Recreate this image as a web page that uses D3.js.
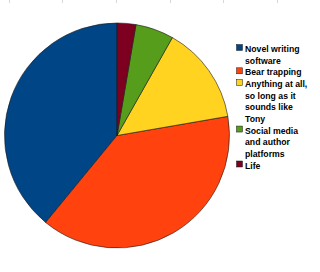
<!DOCTYPE html>
<html>
<head>
  <script src="https://d3js.org/d3.v7.min.js"></script>
  <style>
    body { margin: 0; background: #fff; }
    svg { display: block; }
    .legend text { font-family: "Liberation Sans", Arial, sans-serif; font-weight: bold; font-size: 8.7px; fill: #000; }
  </style>
</head>
<body>
<div id="chart"></div>
<script>
  // slices, in drawing order (counter-clockwise from 12 o'clock)
  const categories = ["Novel writing software", "Bear trapping", "Anything at all, so long as it sounds like Tony", "Social media and author platforms", "Life"];
  const values = [39.1, 38.7, 14.1, 5.5, 2.7];
  const colors = ["#004586", "#ff420e", "#ffd320", "#579d1c", "#7e0021"];
  const legendLines = [
    ["Novel writing", "software"],
    ["Bear trapping"],
    ["Anything at all,", "so long as it", "sounds like", "Tony"],
    ["Social media", "and author", "platforms"],
    ["Life"]
  ];

  const width = 320, height = 272;
  const cx = 117, cy = 135.5, radius = 112.5;

  const svg = d3.select("#chart").append("svg")
    .attr("width", width)
    .attr("height", height);

  // faint grid stubs along the top edge
  const xTop = d3.scaleLinear().domain([0, 5]).range([8.5, 277]);
  svg.append("g").selectAll("line")
    .data(d3.range(6))
    .join("line")
    .attr("x1", d => Math.round(xTop(d)) + 0.5)
    .attr("x2", d => Math.round(xTop(d)) + 0.5)
    .attr("y1", 0).attr("y2", 3)
    .attr("stroke", "#d8d8d8");

  const pie = d3.pie().sort(null)
    .startAngle(0).endAngle(-2 * Math.PI);
  const arc = d3.arc().innerRadius(0).outerRadius(radius);

  svg.append("g")
    .attr("transform", `translate(${cx},${cy})`)
    .selectAll("path")
    .data(pie(values))
    .join("path")
    .attr("d", arc)
    .attr("fill", (d, i) => colors[i])
    .attr("stroke", "#1a1a1a")
    .attr("stroke-width", 0.6)
    .attr("stroke-linejoin", "round");

  // legend
  const lineH = 11.65;
  const legend = svg.append("g").attr("class", "legend");
  let row = 0;
  legendLines.forEach((lines, i) => {
    const y0 = 49 + row * lineH;
    legend.append("rect")
      .attr("x", 236.5).attr("y", y0 - 4.5)
      .attr("width", 6).attr("height", 6)
      .attr("fill", colors[i])
      .attr("stroke", "#1a1a1a").attr("stroke-width", 0.5);
    lines.forEach((t, j) => {
      legend.append("text")
        .attr("x", 245)
        .attr("y", y0 + j * lineH + 3)
        .text(t);
    });
    row += lines.length;
  });
</script>
</body>
</html>
